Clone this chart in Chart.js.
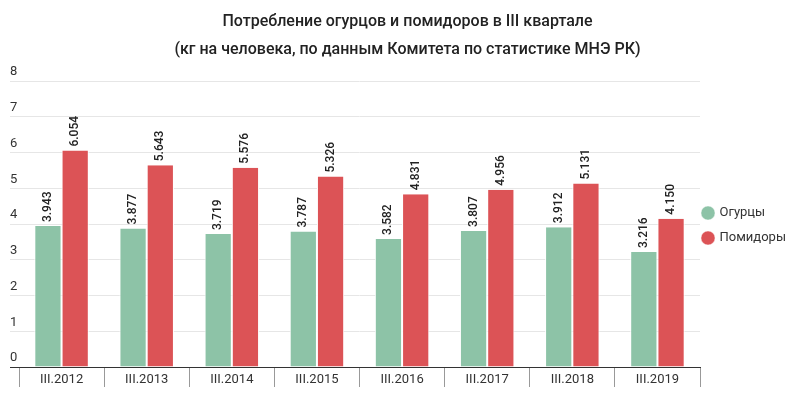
<!DOCTYPE html>
<html>
<head>
<meta charset="utf-8">
<script src="https://cdn.jsdelivr.net/npm/chart.js@4"></script>
<style>
  html, body { margin: 0; padding: 0; background: #fff; }
  #wrap { width: 800px; height: 397px; }
</style>
</head>
<body>
<div id="wrap"><canvas id="chart"></canvas></div>
<script>
const categories = ["III.2012", "III.2013", "III.2014", "III.2015", "III.2016", "III.2017", "III.2018", "III.2019"];
const cucumbers = [3.943, 3.877, 3.719, 3.787, 3.582, 3.807, 3.912, 3.216];
const tomatoes = [6.054, 5.643, 5.576, 5.326, 4.831, 4.956, 5.131, 4.150];
const seriesNames = ["Огурцы", "Помидоры"];
const titleLines = [
  "Потребление огурцов и помидоров в III квартале",
  "(кг на человека, по данным Комитета по статистике МНЭ РК)"
];

const FONT = "Roboto, 'Noto Sans', sans-serif";

// rotated value labels above bars
const barLabels = {
  id: "barLabels",
  afterDatasetsDraw(chart) {
    const ctx = chart.ctx;
    ctx.save();
    ctx.font = "500 12px " + FONT;
    ctx.fillStyle = "#222";
    ctx.textAlign = "left";
    ctx.textBaseline = "middle";
    chart.data.datasets.forEach((ds, i) => {
      chart.getDatasetMeta(i).data.forEach((bar, j) => {
        ctx.save();
        ctx.translate(bar.x, bar.y - 4);
        ctx.rotate(-Math.PI / 2);
        ctx.fillText(ds.data[j].toFixed(3), 0, 0);
        ctx.restore();
      });
    });
    ctx.restore();
  }
};

// nudge the legend a bit left and down, like the original
const legendNudge = {
  id: "legendNudge",
  afterLayout(chart) {
    const lg = chart.legend;
    if (!lg) return;
    lg.left -= 9;
    lg.right -= 9;
    lg.top += 27;
    lg.bottom += 27;
  }
};

new Chart(document.getElementById("chart"), {
  type: "bar",
  data: {
    labels: categories,
    datasets: [
      {
        label: seriesNames[0],
        data: cucumbers,
        backgroundColor: "#8DC3A7",
        borderColor: "#ffffff",
        borderWidth: { left: 1, right: 1, top: 0, bottom: 0 },
        categoryPercentage: 0.64,
        barPercentage: 1
      },
      {
        label: seriesNames[1],
        data: tomatoes,
        backgroundColor: "#DC5356",
        borderColor: "#ffffff",
        borderWidth: { left: 1, right: 1, top: 0, bottom: 0 },
        categoryPercentage: 0.64,
        barPercentage: 1
      }
    ]
  },
  options: {
    responsive: true,
    maintainAspectRatio: false,
    animation: false,
    layout: { padding: { left: 10, right: -5, top: 8, bottom: 8 } },
    plugins: {
      title: {
        display: true,
        text: titleLines,
        color: "#222",
        font: { family: FONT, size: 16, weight: "500", lineHeight: 1.75 },
        padding: { top: 0, bottom: 17 }
      },
      legend: {
        position: "right",
        labels: {
          usePointStyle: true,
          pointStyle: "circle",
          boxWidth: 10,
          boxHeight: 10,
          padding: 12,
          color: "#333",
          font: { family: FONT, size: 13 }
        }
      },
      tooltip: { enabled: false }
    },
    scales: {
      x: {
        afterFit(axis) { axis.height = 22; },
        grid: {
          offset: true,
          drawOnChartArea: false,
          tickLength: 20,
          color: "#999"
        },
        border: { display: true, color: "#333" },
        ticks: {
          padding: -15,
          color: "#333",
          font: { family: FONT, size: 13 }
        }
      },
      y: {
        min: 0,
        max: 8,
        afterFit(axis) { axis.width = 9; },
        grid: {
          tickLength: 9,
          color: (c) => c.tick && c.tick.value === 0 ? "#333" : "#e6e6e6"
        },
        border: { display: false },
        ticks: {
          stepSize: 1,
          crossAlign: "far",
          labelOffset: -9,
          padding: 0,
          color: "#333",
          font: { family: FONT, size: 13 }
        }
      }
    }
  },
  plugins: [barLabels, legendNudge]
});
</script>
</body>
</html>
